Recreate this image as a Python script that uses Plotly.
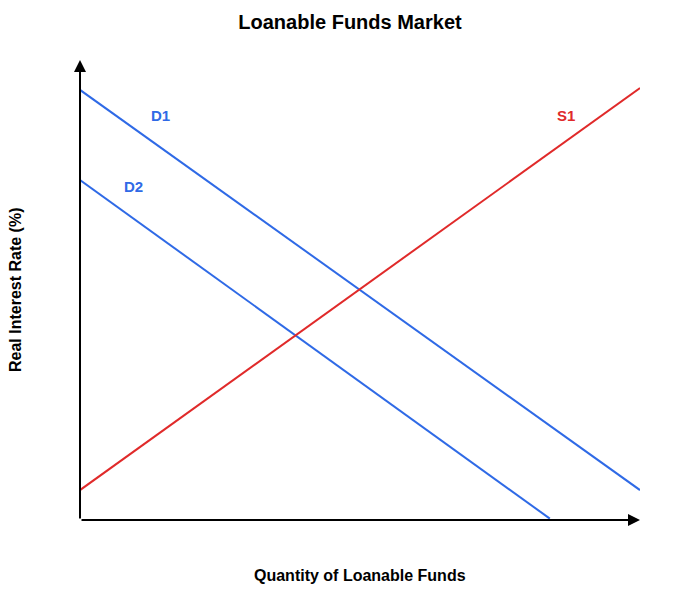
import plotly.graph_objects as go

# Data (quantity 0-100, rate 0-100 in plot units)
d1_x = [0, 100]
d1_y = [93.5, 6.5]
d2_x = [0, 83.9]
d2_y = [73.9, 0.3]
s1_x = [0, 100]
s1_y = [6.5, 93.9]

label_text = ["D1", "D2", "S1"]
label_x = [14.3, 9.5, 86.8]
label_y = [88.0, 72.6, 88.0]

blue = "#2f6ae6"
red = "#e02a2a"
font_family = "Liberation Sans, Arial, sans-serif"

fig = go.Figure()
fig.add_trace(go.Scatter(x=d1_x, y=d1_y, mode="lines", line=dict(color=blue, width=2), showlegend=False,
                         hoverinfo="skip"))
fig.add_trace(go.Scatter(x=d2_x, y=d2_y, mode="lines", line=dict(color=blue, width=2), showlegend=False,
                         hoverinfo="skip"))
fig.add_trace(go.Scatter(x=s1_x, y=s1_y, mode="lines", line=dict(color=red, width=2), showlegend=False,
                         hoverinfo="skip"))

colors = [blue, blue, red]
for t, x, y, c in zip(label_text, label_x, label_y, colors):
    fig.add_annotation(x=x, y=y, text=f"<b>{t}</b>", showarrow=False,
                       font=dict(size=15, color=c, family=font_family))

# axes with arrows
fig.add_annotation(x=100, y=0, ax=0, ay=0, xref="x", yref="y", axref="x", ayref="y",
                   showarrow=True, arrowhead=2, arrowsize=1.2, arrowwidth=2, arrowcolor="black", text="")
fig.add_annotation(x=0, y=100, ax=0, ay=0, xref="x", yref="y", axref="x", ayref="y",
                   showarrow=True, arrowhead=2, arrowsize=1.2, arrowwidth=2, arrowcolor="black", text="")

# axis titles
fig.add_annotation(x=0.5, y=-55 / 460, xref="paper", yref="paper", showarrow=False,
                   text="<b>Quantity of Loanable Funds</b>", xanchor="center", yanchor="middle",
                   font=dict(size=16, color="black", family=font_family))
fig.add_annotation(x=-65 / 560, y=0.5, xref="paper", yref="paper", showarrow=False, textangle=-90,
                   text="<b>Real Interest Rate (%)</b>", xanchor="center", yanchor="middle",
                   font=dict(size=16, color="black", family=font_family))

fig.update_layout(
    width=700, height=600,
    margin=dict(l=80, r=60, t=60, b=80, autoexpand=False),
    paper_bgcolor="white", plot_bgcolor="white",
    title=dict(text="<b>Loanable Funds Market</b>", x=0.5, xanchor="center", y=1 - 22 / 600, yanchor="middle",
               font=dict(size=20, color="black", family=font_family)),
    xaxis=dict(range=[0, 100], showgrid=False, zeroline=False, showticklabels=False, showline=False,
               automargin=False),
    yaxis=dict(range=[0, 100], showgrid=False, zeroline=False, showticklabels=False, showline=False,
               automargin=False),
)

fig.write_html("out.html", config={"displayModeBar": False},
               post_script="document.body.style.margin='0';document.body.style.padding='0';")
